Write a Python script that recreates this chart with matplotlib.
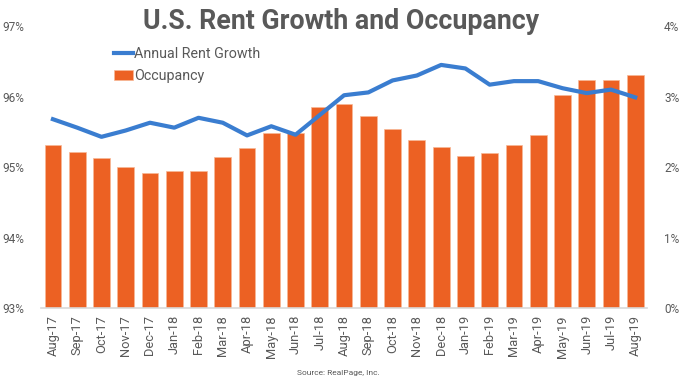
import numpy as np
import matplotlib
matplotlib.use("Agg")
import matplotlib.pyplot as plt
from matplotlib.ticker import FuncFormatter

plt.rcParams['font.family'] = ['Roboto', 'DejaVu Sans']

months = ["Aug-17", "Sep-17", "Oct-17", "Nov-17", "Dec-17", "Jan-18", "Feb-18",
          "Mar-18", "Apr-18", "May-18", "Jun-18", "Jul-18", "Aug-18", "Sep-18",
          "Oct-18", "Nov-18", "Dec-18", "Jan-19", "Feb-19", "Mar-19", "Apr-19",
          "May-19", "Jun-19", "Jul-19", "Aug-19"]

# occupancy in %, left axis
occupancy = [95.31, 95.22, 95.13, 95.00, 94.92, 94.95, 94.94, 95.15, 95.27,
             95.49, 95.49, 95.85, 95.90, 95.73, 95.54, 95.38, 95.28, 95.16,
             95.20, 95.32, 95.46, 96.02, 96.23, 96.23, 96.30]

# annual rent growth in %, right axis
rent_growth = [2.68, 2.56, 2.43, 2.52, 2.63, 2.56, 2.70, 2.63, 2.45, 2.58,
               2.46, 2.74, 3.02, 3.06, 3.23, 3.30, 3.45, 3.40, 3.17, 3.22,
               3.22, 3.12, 3.05, 3.10, 2.99]

left_ticks = [93, 94, 95, 96, 97]
right_ticks = [0, 1, 2, 3, 4]

orange = "#EC6123"
blue = "#3A7DD0"
gray = "#595959"

fig = plt.figure(figsize=(6.8, 3.79), dpi=100)
ax = fig.add_axes([0.06, 0.187, 0.892, 0.744])
x = np.arange(len(months))

bars = ax.bar(x, occupancy, width=0.69, color=orange, edgecolor="#F7B896",
              linewidth=0.5, bottom=0, label="Occupancy", zorder=2)
ax.set_ylim(93, 97)
ax.set_xlim(-0.5, len(months) - 0.5)
ax.set_yticks(left_ticks)
ax.yaxis.set_major_formatter(FuncFormatter(lambda v, p: f"{v:.0f}%"))
ax.set_xticks(x)
ax.set_xticklabels(months, rotation=90)

ax2 = ax.twinx()
line, = ax2.plot(x, rent_growth, color=blue, linewidth=3, label="Annual Rent Growth",
                 solid_joinstyle="round", zorder=3)
ax2.set_ylim(0, 4)
ax2.set_yticks(right_ticks)
ax2.yaxis.set_major_formatter(FuncFormatter(lambda v, p: f"{v:.0f}%"))

for a in (ax, ax2):
    for s in a.spines.values():
        s.set_visible(False)
    a.tick_params(length=0, colors=gray, labelsize=8.5)
ax.spines['bottom'].set_visible(True)
ax.spines['bottom'].set_color("#D9D9D9")
ax.spines['bottom'].set_linewidth(1.2)
ax.tick_params(axis='y', pad=12)
ax.tick_params(axis='x', pad=5, labelsize=9.3)
ax2.tick_params(axis='y', pad=12)

leg = ax2.legend([line, bars], ["Annual Rent Growth", "Occupancy"],
                 loc="upper left", bbox_to_anchor=(0.1, 0.97), frameon=False,
                 fontsize=10.3, handlelength=1.3, handletextpad=0.1,
                 labelspacing=0.55, labelcolor=gray)

fig.text(0.502, 0.978, "U.S. Rent Growth and Occupancy", ha="center", va="top",
         fontsize=19.3, fontweight="bold", color=gray)
fig.text(0.437, 0.008, "Source: RealPage, Inc.", ha="left", va="bottom",
         fontsize=6, color=gray)

fig.savefig("out.png", dpi=100)
